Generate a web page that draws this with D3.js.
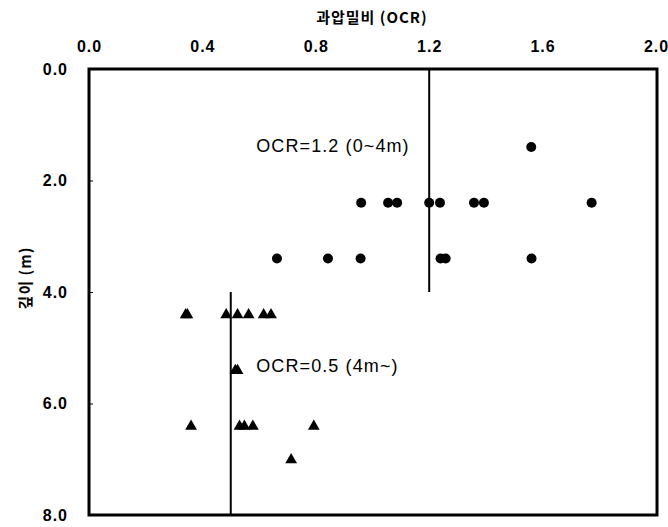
<!DOCTYPE html>
<html><head><meta charset="utf-8">
<script src="https://cdn.jsdelivr.net/npm/d3@7/dist/d3.min.js"></script>
<style>body{margin:0;background:#fff}</style>
</head><body>
<svg id="c" width="668" height="527"></svg>
<script>
const xTicks = [0.0, 0.4, 0.8, 1.2, 1.6, 2.0];
const yTicks = [0.0, 2.0, 4.0, 6.0, 8.0];
// circles: [OCR, depth]
const circleOCR   = [1.56, 0.96, 1.055, 1.087, 1.20, 1.238, 1.358, 1.393, 1.773, 0.663, 0.843, 0.958, 1.24, 1.258, 1.561];
const circleDepth = [1.4, 2.4, 2.4, 2.4, 2.4, 2.4, 2.4, 2.4, 2.4, 3.4, 3.4, 3.4, 3.4, 3.4, 3.4];
const triOCR   = [0.341, 0.347, 0.484, 0.524, 0.563, 0.616, 0.642, 0.516, 0.524, 0.36, 0.531, 0.548, 0.578, 0.793, 0.713];
const triDepth = [4.4, 4.4, 4.4, 4.4, 4.4, 4.4, 4.4, 5.4, 5.4, 6.4, 6.4, 6.4, 6.4, 6.4, 7.0];
const refLines = [{ocr: 1.2, from: 0, to: 4, label: "OCR=1.2 (0~4m)", lx: 0.59, ly: 1.38},
                  {ocr: 0.5, from: 4, to: 8, label: "OCR=0.5 (4m~)", lx: 0.59, ly: 5.33}];

const svg = d3.select("#c");
const L = 89, R = 657, T = 69, B = 515;
const x = d3.scaleLinear().domain([0, 2]).range([L, R - 1]);
const y = d3.scaleLinear().domain([0, 8]).range([T, B]);

const numFont = "'Liberation Sans', Arial, sans-serif";
const cjk = "'Noto Sans CJK KR', sans-serif";

// top axis
const xa = svg.append("g").attr("transform", `translate(0,${T})`)
  .call(d3.axisTop(x).tickValues(xTicks).tickFormat(d3.format(".1f")).tickSize(0).tickPadding(17));
xa.select(".domain").remove();
xa.selectAll("text").attr("font-family", numFont).attr("font-weight", "bold").attr("font-size", 16)
  .attr("letter-spacing", 1).attr("fill", "#000");

// left axis
const ya = svg.append("g").attr("transform", `translate(${L},0)`)
  .call(d3.axisRight(y).tickValues(yTicks).tickFormat(d3.format(".1f")).tickSize(4));
ya.select(".domain").remove();
ya.selectAll("line").attr("stroke", "#000").attr("stroke-width", 1);
ya.selectAll("text").attr("x", -21).attr("text-anchor", "end")
  .attr("font-family", numFont).attr("font-weight", "bold").attr("font-size", 16)
  .attr("letter-spacing", 1).attr("fill", "#000");

// frame
svg.append("rect").attr("x", L).attr("y", T).attr("width", R - L).attr("height", B - T)
  .attr("fill", "none").attr("stroke", "#000").attr("stroke-width", 3);

// reference lines
refLines.forEach(r => {
  svg.append("line").attr("x1", x(r.ocr)).attr("x2", x(r.ocr)).attr("y1", y(r.from)).attr("y2", y(r.to))
    .attr("stroke", "#000").attr("stroke-width", 2);
  svg.append("text").attr("x", x(r.lx)).attr("y", y(r.ly)).attr("dy", "0.35em")
    .attr("font-family", numFont).attr("font-size", 18).attr("letter-spacing", 1.1).attr("fill", "#000").text(r.label);
});

// circles
svg.append("g").selectAll("circle").data(circleOCR.map((v, i) => [v, circleDepth[i]])).join("circle")
  .attr("cx", d => x(d[0])).attr("cy", d => y(d[1])).attr("r", 5).attr("fill", "#000");

// triangles
const tri = d3.symbol().type(d3.symbolTriangle).size(60);
svg.append("g").selectAll("path").data(triOCR.map((v, i) => [v, triDepth[i]])).join("path")
  .attr("d", tri).attr("transform", d => `translate(${x(d[0])},${y(d[1]) + 0.5})`).attr("fill", "#000");

// titles
svg.append("text").attr("x", 372).attr("y", 18).attr("dy", "0.35em").attr("text-anchor", "middle")
  .attr("font-family", cjk).attr("font-weight", "bold").attr("font-size", 15).attr("letter-spacing", 1)
  .attr("fill", "#000").text("과압밀비 (OCR)");
svg.append("text").attr("transform", "translate(26,278) rotate(-90)").attr("dy", "0.35em").attr("text-anchor", "middle")
  .attr("font-family", cjk).attr("font-weight", "bold").attr("font-size", 15).attr("letter-spacing", 1)
  .attr("fill", "#000").text("깊이 (m)");
</script>
</body></html>
